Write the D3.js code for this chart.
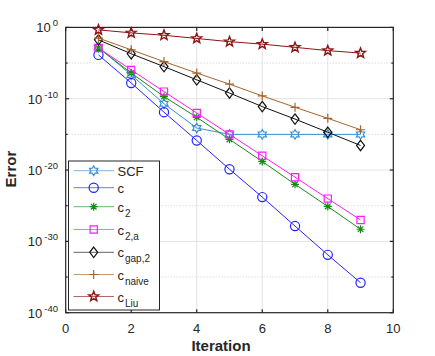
<!doctype html>
<html>
<head>
<style>
  body { margin: 0; background: #fff; }
  text { font-family: "Liberation Sans", Arial, sans-serif; fill: #262626; }
</style>
<script src="https://d3js.org/d3.v7.min.js"></script>
</head>
<body>
<svg width="435" height="356"></svg>
<script>
// iterations
var iters = [1, 2, 3, 4, 5, 6, 7, 8, 9];

// errors
var scf   = [1.6e-3, 2.2e-7, 2.0e-11, 7.9e-15, 1e-15, 1e-15, 1e-15, 1e-15, 1e-15];
var cBase = [1.4e-4, 1.6e-8, 1.3e-12, 1.4e-16, 1.3e-20, 1.6e-24, 1.4e-28, 1.3e-32, 1.6e-36];
var c2    = [1.3e-3, 4.0e-7, 2.0e-10, 2.5e-13, 2.0e-16, 1.6e-19, 1e-22, 7.9e-26, 5.0e-29];
var c2a   = [1.3e-3, 1.1e-6, 1e-9, 1e-12, 1e-15, 1e-18, 1e-21, 1e-24, 1e-27];
var cGap2 = [1.8e-2, 2.0e-4, 3.2e-6, 4.5e-8, 6.3e-10, 7.9e-12, 1.4e-13, 2.0e-15, 2.8e-17];
var cNaive = [3.2e-2, 7.1e-4, 1.6e-5, 4.0e-7, 1.1e-8, 2.5e-10, 6.3e-12, 1.8e-13, 4.5e-15];
var cLiu  = [0.45, 0.17, 0.079, 0.028, 0.01, 4.5e-3, 1.6e-3, 5.6e-4, 2.5e-4];

var xTicks = [0, 2, 4, 6, 8, 10];
var yTickExp = [0, -10, -20, -30, -40];
var yMinorExp = [-5, -15, -25, -35];

var series = [
  { name: "SCF", sub: "", vals: scf, color: "#3a8fd2", marker: "hexagram" },
  { name: "c", sub: "", vals: cBase, color: "#2424ff", marker: "circle" },
  { name: "c", sub: "2", vals: c2, color: "#178a17", marker: "asterisk" },
  { name: "c", sub: "2,a", vals: c2a, color: "#ff1aff", marker: "square" },
  { name: "c", sub: "gap,2", vals: cGap2, color: "#111111", marker: "diamond" },
  { name: "c", sub: "naive", vals: cNaive, color: "#a5642c", marker: "plus" },
  { name: "c", sub: "Liu", vals: cLiu, color: "#8e1414", marker: "pentagram" }
];

var svg = d3.select("svg");
var L = 65.7, R = 393.3, T = 27.4, B = 312.7;

var x = d3.scaleLinear().domain([0, 10]).range([L, R]);
var y = d3.scaleLog().domain([1e-40, 1]).range([B, T]);

// grid
var grid = svg.append("g");
grid.selectAll(".vg").data(xTicks.slice(1, -1)).enter().append("line")
  .attr("x1", function (d) { return x(d); }).attr("x2", function (d) { return x(d); })
  .attr("y1", T).attr("y2", B)
  .attr("stroke", "#e3e3e3").attr("stroke-width", 1);
grid.selectAll(".hg").data(yTickExp.slice(1, -1)).enter().append("line")
  .attr("x1", L).attr("x2", R)
  .attr("y1", function (d) { return y(Math.pow(10, d)); }).attr("y2", function (d) { return y(Math.pow(10, d)); })
  .attr("stroke", "#e3e3e3").attr("stroke-width", 1);
grid.selectAll(".mg").data(yMinorExp).enter().append("line")
  .attr("x1", L).attr("x2", R)
  .attr("y1", function (d) { return y(Math.pow(10, d)); }).attr("y2", function (d) { return y(Math.pow(10, d)); })
  .attr("stroke", "#cfcfcf").attr("stroke-width", 1).attr("stroke-dasharray", "1,2");

// axes (box with inward ticks)
var ax = svg.append("g").attr("stroke", "#262626").attr("stroke-width", 1.2);
ax.append("rect").attr("x", L).attr("y", T).attr("width", R - L).attr("height", B - T).attr("fill", "none");
xTicks.forEach(function (d) {
  ax.append("line").attr("x1", x(d)).attr("x2", x(d)).attr("y1", B).attr("y2", B - 3.5);
  ax.append("line").attr("x1", x(d)).attr("x2", x(d)).attr("y1", T).attr("y2", T + 3.5);
});
yTickExp.concat(yMinorExp).forEach(function (d) {
  var yy = y(Math.pow(10, d));
  var len = yMinorExp.indexOf(d) >= 0 ? 2 : 3.5;
  ax.append("line").attr("x1", L).attr("x2", L + len).attr("y1", yy).attr("y2", yy);
  ax.append("line").attr("x1", R).attr("x2", R - len).attr("y1", yy).attr("y2", yy);
});

// tick labels
svg.selectAll(".xt").data(xTicks).enter().append("text")
  .attr("x", function (d) { return x(d); }).attr("y", B + 20)
  .attr("text-anchor", "middle").attr("font-size", 13)
  .text(function (d) { return d; });

yTickExp.forEach(function (d) {
  var t = svg.append("text").attr("x", 58).attr("y", y(Math.pow(10, d)) + 5)
    .attr("text-anchor", "end").attr("font-size", 13);
  t.append("tspan").text("10");
  t.append("tspan").attr("dx", 2).attr("dy", -6).attr("font-size", 9.5).text(String(d));
});

// axis titles
svg.append("text").attr("x", 221).attr("y", 351)
  .attr("text-anchor", "middle").attr("font-size", 15).attr("font-weight", "bold").text("Iteration");
svg.append("text").attr("transform", "translate(15.5," + (y(1e-20) - 1) + ") rotate(-90)")
  .attr("text-anchor", "middle").attr("font-size", 15).attr("font-weight", "bold").text("Error");

// marker paths
function markerPath(type) {
  var p = d3.path();
  if (type === "circle") {
    p.arc(0, 0, 4.6, 0, 2 * Math.PI);
  } else if (type === "square") {
    p.rect(-3.6, -3.6, 7.2, 7.2);
  } else if (type === "diamond") {
    p.moveTo(0, -5.2); p.lineTo(4, 0); p.lineTo(0, 5.2); p.lineTo(-4, 0); p.closePath();
  } else if (type === "plus") {
    p.moveTo(-4.5, 0); p.lineTo(4.5, 0); p.moveTo(0, -4.5); p.lineTo(0, 4.5);
  } else if (type === "asterisk") {
    for (var i = 0; i < 4; i++) {
      var a = i * Math.PI / 4;
      p.moveTo(-4 * Math.cos(a), -4 * Math.sin(a));
      p.lineTo(4 * Math.cos(a), 4 * Math.sin(a));
    }
  } else if (type === "pentagram") {
    var ro = 5.2, ri = 2.2;
    for (var k = 0; k < 10; k++) {
      var r = k % 2 === 0 ? ro : ri;
      var ang = -Math.PI / 2 + k * Math.PI / 5;
      if (k === 0) p.moveTo(r * Math.cos(ang), r * Math.sin(ang));
      else p.lineTo(r * Math.cos(ang), r * Math.sin(ang));
    }
    p.closePath();
  } else if (type === "hexagram") {
    var ho = 4.8, hi = 2.8;
    for (var m = 0; m < 12; m++) {
      var rr = m % 2 === 0 ? ho : hi;
      var an = -Math.PI / 2 + m * Math.PI / 6;
      if (m === 0) p.moveTo(rr * Math.cos(an), rr * Math.sin(an));
      else p.lineTo(rr * Math.cos(an), rr * Math.sin(an));
    }
    p.closePath();
  }
  return p.toString();
}

var line = d3.line()
  .x(function (d, i) { return x(iters[i]); })
  .y(function (d) { return y(d); });

series.forEach(function (s) {
  var g = svg.append("g");
  g.append("path").datum(s.vals).attr("d", line)
    .attr("fill", "none").attr("stroke", s.color).attr("stroke-width", 1);
  g.selectAll("path.m").data(s.vals).enter().append("path").attr("class", "m")
    .attr("transform", function (d, i) { return "translate(" + x(iters[i]) + "," + y(d) + ")"; })
    .attr("d", markerPath(s.marker))
    .attr("fill", "none").attr("stroke", s.color)
    .attr("stroke-width", s.marker === "pentagram" ? 1.4 : 1.2);
});

// legend
var lg = svg.append("g");
lg.append("rect").attr("x", 68.5).attr("y", 161).attr("width", 91).attr("height", 149)
  .attr("fill", "#fff").attr("stroke", "#262626").attr("stroke-width", 1);
var legY = [170.7, 187.7, 206.7, 229.5, 252.3, 274.5, 296.5];
series.forEach(function (s, i) {
  var yy = legY[i];
  lg.append("line").attr("x1", 73.5).attr("x2", 114).attr("y1", yy).attr("y2", yy)
    .attr("stroke", s.color).attr("stroke-width", 1).attr("stroke-opacity", 0.65);
  lg.append("path").attr("transform", "translate(93.7," + yy + ")")
    .attr("d", markerPath(s.marker)).attr("fill", "none").attr("stroke", s.color)
    .attr("stroke-width", s.marker === "pentagram" ? 1.4 : 1.2);
  var t = lg.append("text").attr("x", 117.5).attr("y", yy + 5).attr("font-size", 13);
  t.append("tspan").text(s.name);
  if (s.sub) t.append("tspan").attr("dx", 1).attr("dy", 5).attr("font-size", 10).text(s.sub);
});
</script>
</body>
</html>
